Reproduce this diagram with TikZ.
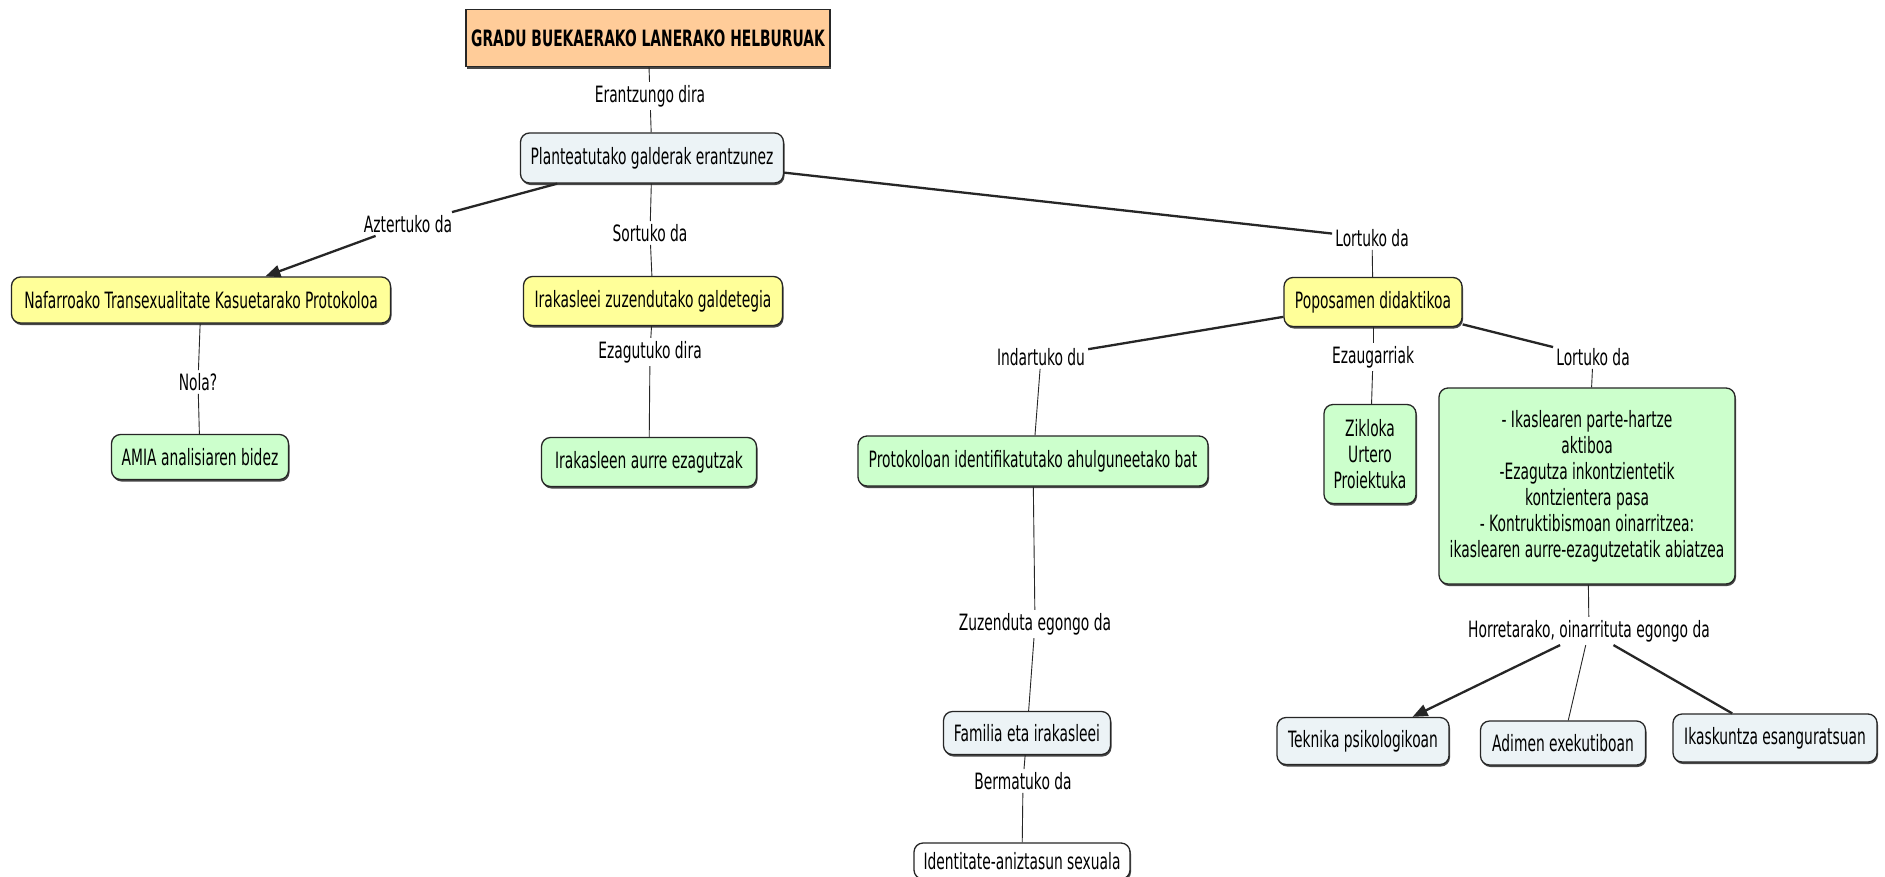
\documentclass[tikz,border=0pt]{standalone}
\usepackage{fontspec}
\setmainfont{DejaVu Sans}[FakeStretch=0.615]
\usetikzlibrary{arrows.meta,shadows}
\definecolor{peach}{RGB}{255,204,153}
\definecolor{paleyellow}{RGB}{255,255,153}
\definecolor{palegreen}{RGB}{204,255,204}
\definecolor{paleblue}{RGB}{236,243,246}
\begin{document}
\begin{tikzpicture}[x=1pt,y=-1pt,
  every node/.style={font=\fontsize{22.5}{26}\selectfont},
  concept/.style={draw=black!85, line width=1.3pt, rounded corners=9pt, align=center,
    inner xsep=4pt, inner ysep=3pt,
    drop shadow={shadow xshift=1pt,shadow yshift=-2pt,fill=black!80,opacity=0.9}},
  rootbox/.style={draw=black!85, line width=1.3pt, fill=peach, inner xsep=4pt,
    font=\fontsize{22.5}{26}\selectfont\bfseries,
    drop shadow={shadow xshift=1pt,shadow yshift=-2pt,fill=black!80,opacity=0.9}},
  yellowbox/.style={concept, fill=paleyellow},
  greenbox/.style={concept, fill=palegreen},
  bluebox/.style={concept, fill=paleblue},
  whitebox/.style={concept, fill=white},
  linkphrase/.style={inner xsep=3pt, inner ysep=3pt},
  thinline/.style={line width=0.9pt, draw=black!85},
  thickline/.style={line width=2.3pt, draw=black!85},
  arrowtip/.style={-{Triangle[length=15pt,width=12pt]}}
]
\fill[white] (0,0) rectangle (1885,876);
\useasboundingbox (0,0) rectangle (1885,876);

% concepts
\node[rootbox, minimum width=364pt, minimum height=57pt] (root) at (648,38) {GRADU BUEKAERAKO LANERAKO HELBURUAK};
\node[bluebox, minimum width=263pt, minimum height=50pt] (plan) at (652,158) {Planteatutako galderak erantzunez};
\node[yellowbox, minimum width=379pt, minimum height=46pt] (naf) at (201,300) {Nafarroako Transexualitate Kasuetarako Protokoloa};
\node[yellowbox, minimum width=259pt, minimum height=49pt] (ira) at (653,301) {Irakasleei zuzendutako galdetegia};
\node[yellowbox, minimum width=178pt, minimum height=49pt] (pop) at (1373,302) {Poposamen didaktikoa};
\node[greenbox, minimum width=177pt, minimum height=45pt] (amia) at (200,457) {AMIA analisiaren bidez};
\node[greenbox, minimum width=215pt, minimum height=49pt] (iren) at (649,462) {Irakasleen aurre ezagutzak};
\node[greenbox, minimum width=350pt, minimum height=50pt] (prot) at (1033,461) {Protokoloan identifikatutako ahulguneetako bat};
\node[greenbox, minimum width=92pt, minimum height=99pt] (zik) at (1370,454) {Zikloka\\Urtero\\Proiektuka};
\node[greenbox, minimum width=296pt, minimum height=196pt] (big) at (1587,486) {- Ikaslearen parte-hartze\\aktiboa\\-Ezagutza inkontzientetik\\kontzientera pasa\\- Kontruktibismoan oinarritzea:\\ikaslearen aurre-ezagutzetatik abiatzea};
\node[bluebox, minimum width=167pt, minimum height=43pt] (fam) at (1027,733) {Familia eta irakasleei};
\node[whitebox, minimum width=216pt, minimum height=36pt] (ident) at (1022,861) {Identitate-aniztasun sexuala};
\node[bluebox, minimum width=172pt, minimum height=47pt] (tek) at (1363,741) {Teknika psikologikoan};
\node[bluebox, minimum width=165pt, minimum height=44pt] (adi) at (1563,743) {Adimen exekutiboan};
\node[bluebox, minimum width=204pt, minimum height=48pt] (ikas) at (1775,738) {Ikaskuntza esanguratsuan};

% linking phrases
\node[linkphrase] (lEr) at (650,96) {Erantzungo dira};
\node[linkphrase] (lAz) at (408,224) {Aztertuko da};
\node[linkphrase] (lSo) at (650,233) {Sortuko da};
\node[linkphrase] (lLo1) at (1372,238) {Lortuko da};
\node[linkphrase] (lNo) at (198,382) {Nola?};
\node[linkphrase] (lEz) at (650,352) {Ezagutuko dira};
\node[linkphrase] (lIn) at (1041,357) {Indartuko du};
\node[linkphrase] (lEzau) at (1373,357) {Ezaugarriak};
\node[linkphrase] (lLo2) at (1593,357) {Lortuko da};
\node[linkphrase] (lZu) at (1035,624) {Zuzenduta egongo da};
\node[linkphrase] (lHo) at (1589,631) {Horretarako, oinarrituta egongo da};
\node[linkphrase] (lBe) at (1023,781) {Bermatuko da};

% connectors
\draw[thinline] (root) -- (lEr);
\draw[thinline] (lEr) -- (plan);
\draw[thickline] (plan) -- (lAz);
\draw[thickline, arrowtip] (lAz) -- (naf);
\draw[thinline] (plan) -- (lSo);
\draw[thinline] (lSo) -- (ira);
\draw[thickline] (plan) -- (lLo1);
\draw[thinline] (lLo1) -- (pop);
\draw[thinline] (naf) -- (lNo);
\draw[thinline] (lNo) -- (amia);
\draw[thinline] (ira) -- (lEz);
\draw[thinline] (lEz) -- (iren);
\draw[thickline] (pop) -- (lIn);
\draw[thinline] (lIn) -- (prot);
\draw[thinline] (pop) -- (lEzau);
\draw[thinline] (lEzau) -- (zik);
\draw[thickline] (pop) -- (lLo2);
\draw[thinline] (lLo2) -- (big);
\draw[thinline] (prot) -- (lZu);
\draw[thinline] (lZu) -- (fam);
\draw[thinline] (fam) -- (lBe);
\draw[thinline] (lBe) -- (ident);
\draw[thinline] (big) -- (lHo);
\draw[thickline, arrowtip] (lHo) -- (tek);
\draw[thinline] (lHo) -- (adi);
\draw[thickline] (lHo) -- (ikas);
\end{tikzpicture}
\end{document}
